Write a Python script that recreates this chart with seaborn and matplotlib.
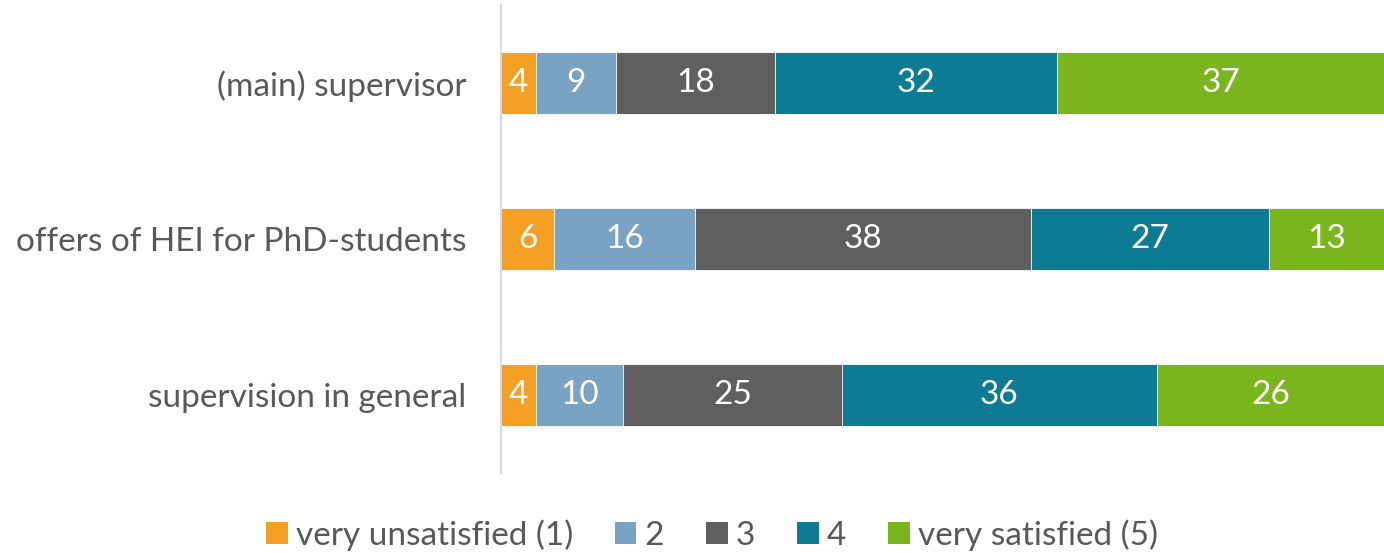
import matplotlib
matplotlib.use("Agg")
import matplotlib.pyplot as plt
import seaborn as sns
import pandas as pd
import numpy as np
from matplotlib.patches import Patch

categories = ["(main) supervisor", "offers of HEI for PhD-students", "supervision in general"]
series_names = ["very unsatisfied (1)", "2", "3", "4", "very satisfied (5)"]
v1 = [4, 6, 4]
v2 = [9, 16, 10]
v3 = [18, 38, 25]
v4 = [32, 27, 36]
v5 = [37, 13, 26]
colors = ["#F5A024", "#7AA2C3", "#5F5F5F", "#0E7B94", "#7AB51E"]

sns.set_theme(style="white")
plt.rcParams['font.family'] = ['Lato', 'DejaVu Sans']

vals = np.array([v1, v2, v3, v4, v5], dtype=float)
totals = vals.sum(axis=0)
pct = vals / totals * 100
cum = np.cumsum(pct, axis=0)

fig = plt.figure(figsize=(13.84, 5.53), dpi=100)
ax = fig.add_axes([501/1384, 80/553, 883/1384, 468/553])

# draw from the longest cumulative to the shortest so segments stack
for i in range(len(series_names) - 1, -1, -1):
    df = pd.DataFrame({"cat": categories, "val": cum[i]})
    sns.barplot(data=df, y="cat", x="val", orient="h", color=colors[i],
                width=0.4, ax=ax, saturation=1, edgecolor="white", linewidth=0.6)

for i in range(len(series_names)):
    for j in range(len(categories)):
        start = cum[i][j] - pct[i][j]
        center = start + pct[i][j] / 2
        ax.text(center, j, f"{int(vals[i][j])}", ha="center", va="center",
                color="white", fontsize=24)

ax.set_xlim(0, 100)
ax.set_ylim(2.5, -0.5)
ax.set_xlabel("")
ax.set_ylabel("")
ax.set_xticks([])
ax.tick_params(axis="y", length=0, pad=25, labelsize=24, labelcolor="#595959")
for s in ["top", "right", "bottom"]:
    ax.spines[s].set_visible(False)
ax.spines["left"].set_color("#D9D9D9")
ax.spines["left"].set_linewidth(1.5)

handles = [Patch(facecolor=c, edgecolor="none") for c in colors]
fig.legend(handles, series_names, loc="center", bbox_to_anchor=(712/1384, 1 - 535/553),
           ncol=5, frameon=False, fontsize=24, labelcolor="#595959",
           handlelength=0.65, handleheight=0.65, handletextpad=0.25, columnspacing=1.25)

fig.savefig("out.png", dpi=100)
